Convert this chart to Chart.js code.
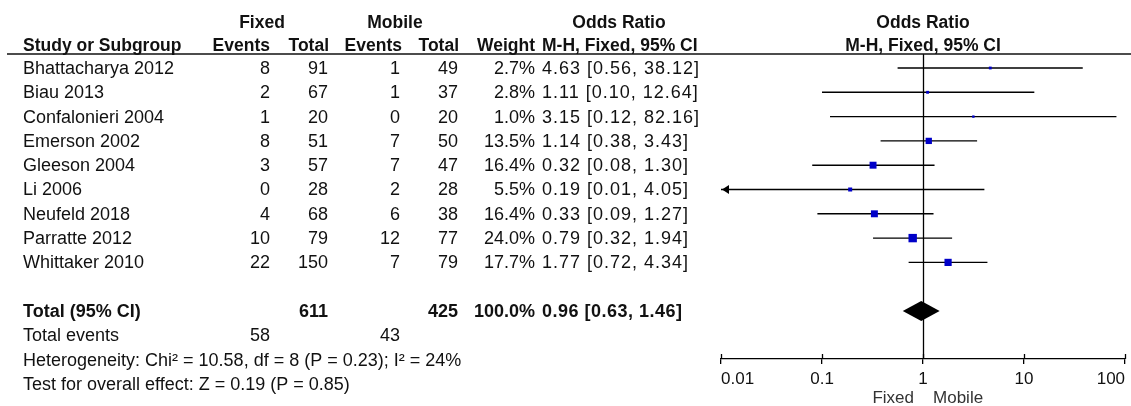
<!DOCTYPE html>
<html><head><meta charset="utf-8">
<script src="https://cdn.jsdelivr.net/npm/chart.js@4.4.1/dist/chart.umd.min.js"></script>
<style>html,body{margin:0;padding:0;background:#fff;overflow:hidden}canvas{display:block}</style>
</head><body>
<canvas id="c" width="1131" height="406"></canvas>
<script>
// ---- data ----
const studies = ["Bhattacharya 2012","Biau 2013","Confalonieri 2004","Emerson 2002","Gleeson 2004","Li 2006","Neufeld 2018","Parratte 2012","Whittaker 2010"];
const fixedEvents = [8,2,1,8,3,0,4,10,22];
const fixedTotal = [91,67,20,51,57,28,68,79,150];
const mobileEvents = [1,1,0,7,7,2,6,12,7];
const mobileTotal = [49,37,20,50,47,28,38,77,79];
const weights = [2.7,2.8,1.0,13.5,16.4,5.5,16.4,24.0,17.7];
const orEst = [4.63,1.11,3.15,1.14,0.32,0.19,0.33,0.79,1.77];
const orLow = [0.56,0.10,0.12,0.38,0.08,0.01,0.09,0.32,0.72];
const orHigh = [38.12,12.64,82.16,3.43,1.30,4.05,1.27,1.94,4.34];
const totalFixed = 611, totalMobile = 425, totalWeight = 100.0;
const pooled = [0.96,0.63,1.46];
const totalEventsFixed = 58, totalEventsMobile = 43;
const heterogeneityText = "Heterogeneity: Chi\u00B2 = 10.58, df = 8 (P = 0.23); I\u00B2 = 24%";
const overallText = "Test for overall effect: Z = 0.19 (P = 0.85)";
const xTicks = [0.01,0.1,1,10,100];
const xTickLabels = ["0.01","0.1","1","10","100"];

// ---- layout/style ----
const FONT = '"Liberation Sans", Arial, sans-serif';
const FS = 18, HFS = 17.5;
const TOTAL_ROW = 10;
const fmt = v => v.toFixed(2);
const ciText = (e,l,h) => fmt(e)+" ["+fmt(l)+", "+fmt(h)+"]";

function txt(ctx, s, x, y, align, bold, size, color, spacing){
  ctx.font = (bold?'bold ':'') + (size||FS) + 'px ' + FONT;
  ctx.textAlign = align; ctx.textBaseline = 'middle';
  ctx.fillStyle = color || '#111';
  ctx.letterSpacing = (spacing||0) + 'px';
  ctx.fillText(s, x, y);
  ctx.letterSpacing = '0px';
}

const tablePlugin = {
  id: 'forestTable',
  beforeDraw(chart){
    const ctx = chart.ctx;
    ctx.save(); ctx.fillStyle = '#fff'; ctx.fillRect(0,0,chart.width,chart.height); ctx.restore();
  },
  beforeDatasetsDraw(chart){
    const ctx = chart.ctx, xs = chart.scales.x, a = chart.chartArea;
    ctx.save();
    ctx.strokeStyle = '#000'; ctx.lineWidth = 1.3;
    const x1 = Math.round(xs.getPixelForValue(1)) + 0.5;
    ctx.beginPath(); ctx.moveTo(x1, a.top); ctx.lineTo(x1, a.bottom); ctx.stroke();
    xTicks.forEach(v => {
      const px = Math.round(xs.getPixelForValue(v)) + 0.5;
      ctx.beginPath(); ctx.moveTo(px, a.bottom - 5); ctx.lineTo(px, a.bottom); ctx.stroke();
    });
    ctx.restore();
  },
  afterDraw(chart){
    const ctx = chart.ctx, xs = chart.scales.x, ys = chart.scales.y, a = chart.chartArea;
    ctx.save();
    ctx.strokeStyle = '#111'; ctx.lineWidth = 1.6;
    ctx.beginPath(); ctx.moveTo(7, a.top); ctx.lineTo(chart.width, a.top); ctx.stroke();
    const h1 = ys.getPixelForValue(-1.85), h2 = ys.getPixelForValue(-0.9);
    const CI_L = 542;
    txt(ctx,"Fixed",262,h1,'center',true,HFS);
    txt(ctx,"Mobile",395,h1,'center',true,HFS);
    txt(ctx,"Odds Ratio",619,h1,'center',true,HFS);
    txt(ctx,"Odds Ratio",xs.getPixelForValue(1),h1,'center',true,HFS);
    txt(ctx,"Study or Subgroup",23,h2,'left',true,HFS);
    txt(ctx,"Events",270,h2,'right',true,HFS);
    txt(ctx,"Total",329,h2,'right',true,HFS);
    txt(ctx,"Events",402,h2,'right',true,HFS);
    txt(ctx,"Total",459,h2,'right',true,HFS);
    txt(ctx,"Weight",535,h2,'right',true,HFS);
    txt(ctx,"M-H, Fixed, 95% CI",CI_L,h2,'left',true,HFS);
    txt(ctx,"M-H, Fixed, 95% CI",xs.getPixelForValue(1),h2,'center',true,HFS);
    studies.forEach((s,i) => {
      const y = ys.getPixelForValue(i) + 1;
      txt(ctx,s,23,y,'left');
      txt(ctx,String(fixedEvents[i]),270,y,'right');
      txt(ctx,String(fixedTotal[i]),328,y,'right');
      txt(ctx,String(mobileEvents[i]),400,y,'right');
      txt(ctx,String(mobileTotal[i]),458,y,'right');
      txt(ctx,weights[i].toFixed(1)+'%',535,y,'right');
      txt(ctx,ciText(orEst[i],orLow[i],orHigh[i]),CI_L,y,'left',false,FS,'#111',1);
    });
    let y = ys.getPixelForValue(TOTAL_ROW) + 1;
    txt(ctx,"Total (95% CI)",23,y,'left',true);
    txt(ctx,String(totalFixed),328,y,'right',true);
    txt(ctx,String(totalMobile),458,y,'right',true);
    txt(ctx,totalWeight.toFixed(1)+'%',535,y,'right',true);
    txt(ctx,ciText(pooled[0],pooled[1],pooled[2]),CI_L,y,'left',true,FS,'#111',0.5);
    y = ys.getPixelForValue(TOTAL_ROW+1) + 1;
    txt(ctx,"Total events",23,y,'left');
    txt(ctx,String(totalEventsFixed),270,y,'right');
    txt(ctx,String(totalEventsMobile),400,y,'right');
    txt(ctx,heterogeneityText,23,ys.getPixelForValue(TOTAL_ROW+2)+1,'left');
    txt(ctx,overallText,23,ys.getPixelForValue(TOTAL_ROW+3)+1,'left');
    // pooled diamond
    const yc = ys.getPixelForValue(TOTAL_ROW);
    ctx.fillStyle = '#000';
    ctx.beginPath();
    ctx.moveTo(xs.getPixelForValue(pooled[1]), yc);
    ctx.lineTo(xs.getPixelForValue(pooled[0]), yc - 10);
    ctx.lineTo(xs.getPixelForValue(pooled[2]), yc);
    ctx.lineTo(xs.getPixelForValue(pooled[0]), yc + 10);
    ctx.closePath(); ctx.fill();
    // arrows for CIs reaching the axis limit
    studies.forEach((s,i) => {
      if (orLow[i] <= xs.min) {
        const px = xs.getPixelForValue(xs.min), py = ys.getPixelForValue(i);
        ctx.beginPath(); ctx.moveTo(px+1, py); ctx.lineTo(px+8, py-4.5); ctx.lineTo(px+8, py+4.5); ctx.closePath(); ctx.fill();
      }
    });
    const x1 = xs.getPixelForValue(1);
    txt(ctx,"Fixed",x1-9,398,'right',false,17,'#333');
    txt(ctx,"Mobile",x1+10,398,'left',false,17,'#333');
    ctx.restore();
  }
};

const squares = studies.map((s,i) => ({x: orEst[i], y: i}));
const sides = weights.map(w => Math.max(2.4, 8.4*Math.sqrt(w/24)));
const ciPts = [];
studies.forEach((s,i) => { ciPts.push({x: orLow[i], y: i}, {x: orHigh[i], y: i}, {x: null, y: null}); });

new Chart(document.getElementById('c'), {
  type: 'scatter',
  data: { datasets: [
    { data: squares, pointStyle: 'rect', pointRadius: sides.map(s => s/Math.SQRT2), backgroundColor: '#0000c8', borderWidth: 0, order: 0 },
    { data: ciPts, showLine: true, spanGaps: false, borderColor: '#000', borderWidth: 1.4, pointRadius: 0, order: 1 }
  ]},
  options: {
    responsive: false, animation: false, devicePixelRatio: 1, events: [],
    layout: { padding: { left: 721, right: 5, top: 54, bottom: 0 } },
    plugins: { legend: { display: false }, tooltip: { enabled: false } },
    scales: {
      x: {
        type: 'logarithmic', min: 0.01, max: 100, position: 'bottom',
        afterBuildTicks(s){ s.ticks = xTicks.map(v => ({value: v})); },
        afterFit(s){ s.height = 47; },
        ticks: { align: 'inner', padding: 5, autoSkip: false, maxRotation: 0, color: '#111',
                 font: { family: FONT, size: 17 }, callback: (v, i) => xTickLabels[i] },
        grid: { display: true, drawOnChartArea: false, drawTicks: true, tickLength: 5, color: '#000', lineWidth: 1.3 },
        border: { display: true, color: '#000', width: 1.3 }
      },
      y: { type: 'linear', min: -0.576, max: 11.975, reverse: true, display: false }
    }
  },
  plugins: [tablePlugin]
});
</script>
</body></html>
